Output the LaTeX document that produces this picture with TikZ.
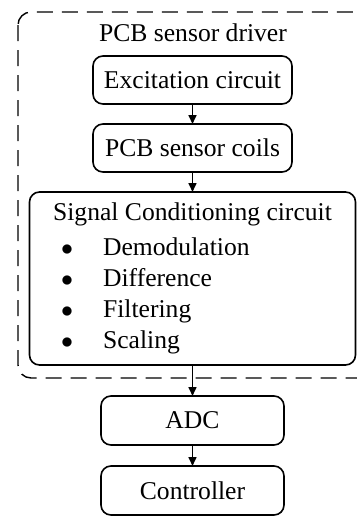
\documentclass[tikz,border=0pt]{standalone}
\usepackage{fontspec}
\setmainfont{Liberation Serif}
\usetikzlibrary{arrows.meta,positioning}

\newcommand{\bulletrow}[1]{\makebox[25pt][l]{\hspace{4pt}$\bullet$}#1}

\begin{document}
\begin{tikzpicture}[->,>={Triangle[length=4.5pt,width=4pt]},line width=0.8pt,
                    main node/.style={rectangle,rounded corners=5pt,draw,minimum width=99.5pt,
                    minimum height=24pt,inner sep=0pt,outer sep=0pt,font=\fontsize{12.8}{15.5}\selectfont},
                    group box/.style={-,draw,dash pattern=on 8pt off 4.5pt,line width=0.7pt,rounded corners=6.5pt}]

  \useasboundingbox (0,0) rectangle (178.5pt,-258pt);

  \node[font=\fontsize{12.8}{15.5}\selectfont] (drv) at (96.5pt,-16.5pt) {PCB sensor driver};
  \node[main node] (exc) at (96.25pt,-40pt) {Excitation circuit};
  \node[main node] (coil) [below=10pt of exc] {PCB sensor coils};
  \node[main node,minimum width=163pt,minimum height=86.5pt] (cond) [below=10pt of coil]
    {\begin{tabular}{@{}l@{}}
       \multicolumn{1}{@{}c@{}}{Signal Conditioning circuit}\\[2pt]
       \bulletrow{Demodulation}\\
       \bulletrow{Difference}\\
       \bulletrow{Filtering}\\
       \bulletrow{Scaling}
     \end{tabular}};
  \node[main node,minimum width=91.5pt,minimum height=24.5pt] (adc) [below=15.5pt of cond] {ADC};
  \node[main node,minimum width=91.5pt,minimum height=24.5pt] (ctrl) [below=10.5pt of adc] {Controller};

  % dashed frame of the driver board
  \draw[group box] (9pt,-6pt) rectangle (186pt,-189pt);

  \path (exc)  edge (coil)
        (coil) edge (cond)
        (cond) edge (adc)
        (adc)  edge (ctrl);
\end{tikzpicture}
\end{document}
